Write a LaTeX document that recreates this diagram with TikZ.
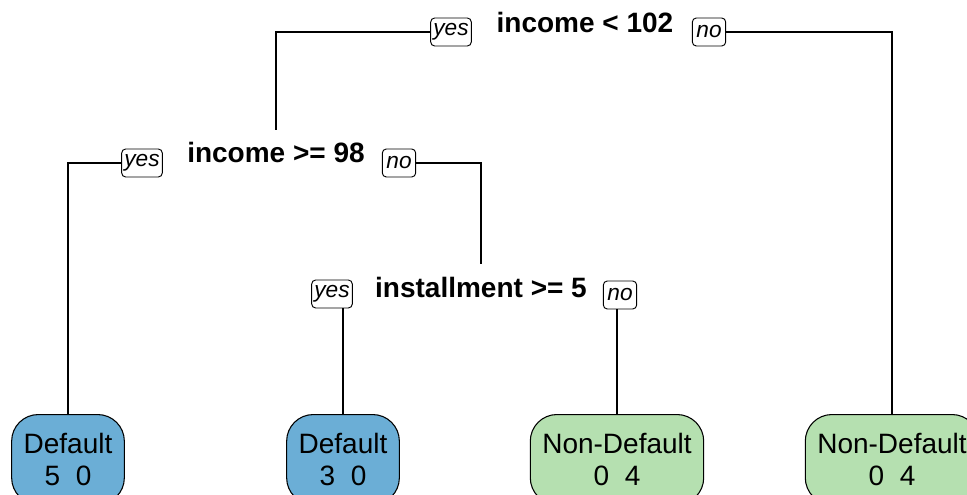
\documentclass[tikz,border=0pt]{standalone}
\usepackage{fontspec}
\setmainfont{Liberation Sans}
\definecolor{leafblue}{RGB}{107,174,214}
\definecolor{leafgreen}{RGB}{181,224,176}
\tikzset{
  split/.style={font=\fontsize{21}{24}\selectfont\bfseries, anchor=base, inner ysep=9pt},
  branch/.style={draw=black, fill=white, rounded corners=3pt, line width=0.7pt,
    font=\fontsize{17}{20}\selectfont\itshape, inner xsep=2pt, inner ysep=0pt,
    minimum height=21pt, minimum width=25pt},
  leaf/.style={draw=black, line width=0.8pt, rounded corners=20pt, anchor=north,
    align=center, font=\fontsize{21}{24}\selectfont, inner xsep=9pt, inner ysep=14pt},
  edge/.style={line width=0.9pt}
}
\begin{document}
\begin{tikzpicture}[x=0.75pt, y=-0.75pt]
        \useasboundingbox (0,0) rectangle (967,495);
        \clip (0,0) rectangle (967,495);

        % split labels
        \node[split] (s1) at (585,33) {income < 102};
        \node[split] (s2) at (276,163) {income >= 98};
        \node[split] (s3) at (481,297) {installment >= 5};

        % yes / no boxes
        \node[branch] (y1) at (451,32) {yes};
        \node[branch] (n1) at (709,32) {no};
        \node[branch] (y2) at (142,163) {yes};
        \node[branch] (n2) at (399,163) {no};
        \node[branch] (y3) at (332,294) {yes};
        \node[branch] (n3) at (620,295) {no};

        % leaves
        \node[leaf, fill=leafblue] (l1) at (68,414) {Default\\5\ \ 0};
        \node[leaf, fill=leafblue] (l2) at (343,414) {Default\\3\ \ 0};
        \node[leaf, fill=leafgreen] (l3) at (617,414) {Non-Default\\0\ \ 4};
        \node[leaf, fill=leafgreen] (l4) at (892,414) {Non-Default\\0\ \ 4};

        % connectors
        \draw[edge] (y1.west) -| (s2.north);
        \draw[edge] (n1.east) -| (l4.north);
        \draw[edge] (y2.west) -| (l1.north);
        \draw[edge] (n2.east) -| (s3.north);
        \draw[edge] (l2.north) -- (l2.north |- y3.south);
        \draw[edge] (l3.north) -- (l3.north |- n3.south);
    \end{tikzpicture}
\end{document}
